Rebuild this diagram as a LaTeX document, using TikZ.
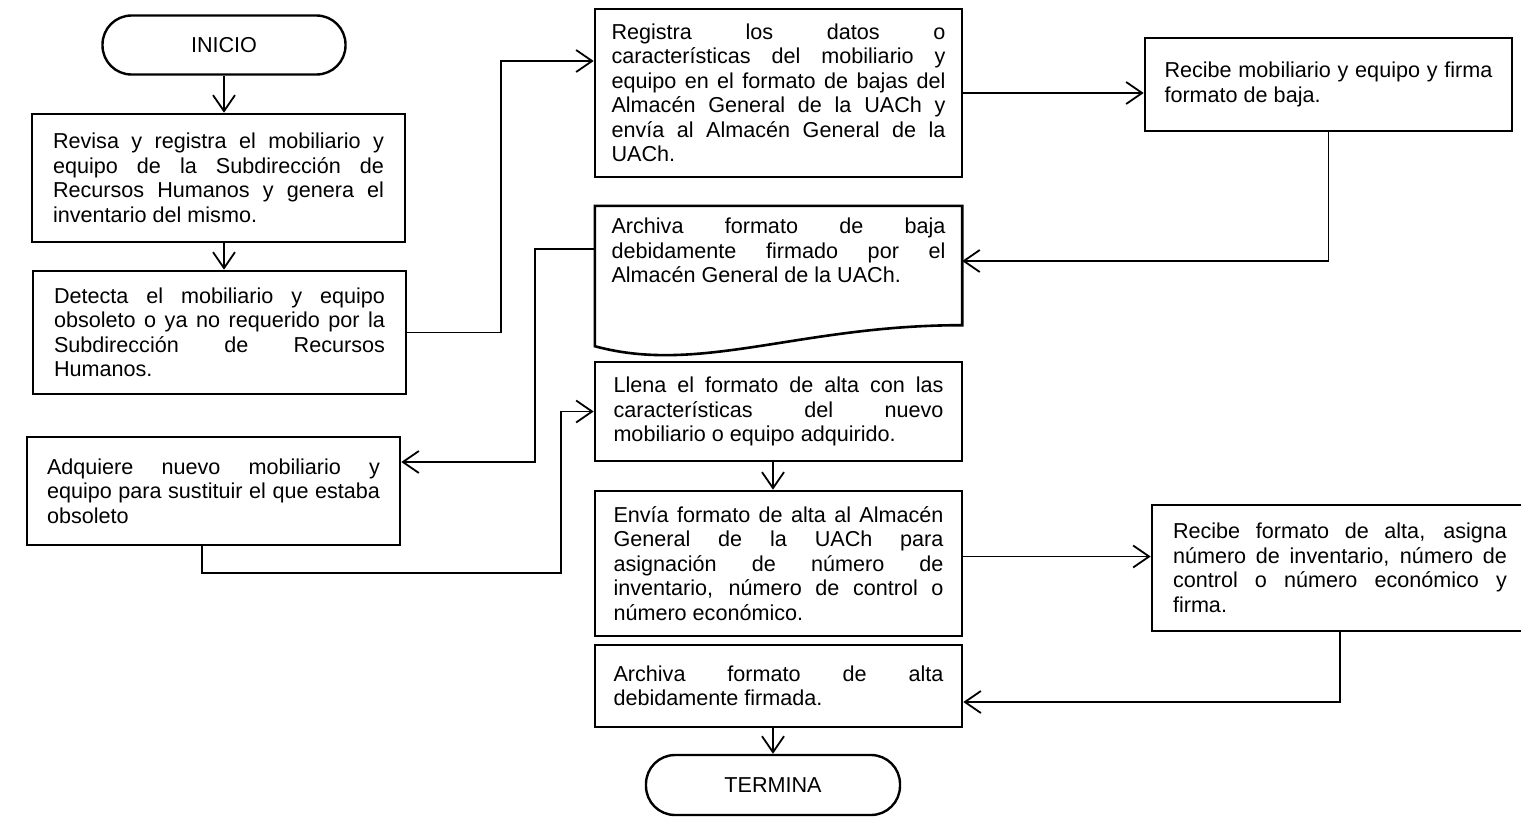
\documentclass[tikz,border=0pt]{standalone}
\usepackage{fontspec}
\setmainfont{Liberation Sans}
\usetikzlibrary{arrows.meta}
\hyphenpenalty=10000
\exhyphenpenalty=10000
\tolerance=10000
\hbadness=10000

\begin{document}
\begin{tikzpicture}[x=1pt,y=-1pt,
  every node/.style={font=\fontsize{21.6}{24.5}\selectfont},
  stepbox/.style={draw, line width=2.6pt, rectangle, align=justify, inner sep=0pt},
  term/.style={draw, line width=2.4pt, rectangle, rounded corners=29pt, inner sep=0pt, align=center},
  flow/.style={line width=1.8pt, -{Straight Barb[length=16pt,width=22pt,line width=1.8pt]}}]

\useasboundingbox (0,0) rectangle (1521,817);

% left column
\node[term, minimum width=243pt, minimum height=59pt] (inicio) at (224,45) {INICIO};
\node[stepbox, minimum width=373pt, minimum height=128pt, text width=331pt] (revisa) at (218.5,178)
  {Revisa y registra el mobiliario y\linebreak equipo de la Subdirección de\linebreak Recursos Humanos y genera el\linebreak inventario del mismo.};
\node[stepbox, minimum width=373pt, minimum height=123pt, text width=331pt] (detecta) at (219.5,332.5)
  {Detecta el mobiliario y equipo\linebreak obsoleto o ya no requerido por la\linebreak Subdirección de Recursos\linebreak Humanos.};
\node[stepbox, minimum width=373pt, minimum height=108pt, text width=333pt] (adquiere) at (213.5,491)
  {Adquiere nuevo mobiliario y\linebreak equipo para sustituir el que estaba\linebreak obsoleto};

% middle column
\node[stepbox, minimum width=367pt, minimum height=168pt, text width=334pt] (registra) at (778.5,93)
  {Registra los datos o\linebreak características del mobiliario y\linebreak equipo en el formato de bajas del\linebreak Almacén General de la UACh y\linebreak envía al Almacén General de la\linebreak UACh.};

% document shape with wavy lower edge
\node[minimum width=367pt, minimum height=140pt, inner sep=0pt] (archb) at (778.5,276) {};
\draw[line width=2.6pt] (archb.north west) -- (archb.north east) -- ([yshift=21pt]archb.south east)
  .. controls (800,325) and (700,375) .. (archb.south west) -- cycle;
\node[text width=334pt, align=justify, inner sep=0pt, anchor=north] (archbtxt) at (778.5,218)
  {Archiva formato de baja\linebreak debidamente firmado por el\linebreak Almacén General de la UACh.};

\node[stepbox, minimum width=367pt, minimum height=99pt, text width=330pt] (llena) at (778.5,411.5)
  {Llena el formato de alta con las\linebreak características del nuevo\linebreak mobiliario o equipo adquirido.};
\node[stepbox, minimum width=367pt, minimum height=145pt, text width=330pt] (envia) at (778.5,563.5)
  {Envía formato de alta al Almacén\linebreak General de la UACh para\linebreak asignación de número de\linebreak inventario, número de control o\linebreak número económico.};
\node[stepbox, minimum width=367pt, minimum height=82pt, text width=330pt] (archa) at (778.5,686)
  {Archiva formato de alta\linebreak debidamente firmada.};
\node[term, minimum width=254pt, minimum height=60pt] (termina) at (773,785) {TERMINA};

% right column
\node[stepbox, minimum width=367pt, minimum height=93pt, text width=328pt] (recibea) at (1328.5,84.5)
  {Recibe mobiliario y equipo y firma\linebreak formato de baja.};
\node[stepbox, minimum width=376pt, minimum height=126pt, text width=334pt] (recibeb) at (1340,568)
  {Recibe formato de alta, asigna\linebreak número de inventario, número de\linebreak control o número económico y\linebreak firma.};

% routing columns for the elbow connectors
\coordinate (j1) at (501,0);
\coordinate (j2) at (535,0);
\coordinate (j3) at (202,573);
\coordinate (j4) at (561,0);

% connectors
\draw[flow] (inicio.south) -- (inicio.south |- revisa.north);
\draw[flow] (revisa.south -| inicio.south) -- (detecta.north -| inicio.south);
\draw[flow] (detecta.east) -- (detecta.east -| j1) |- ([yshift=32pt]registra.west);
\draw[flow] (registra.east) -- (registra.east -| recibea.west);
\draw[flow] (recibea.south) |- ([yshift=15pt]archb.east);
\draw[flow] ([yshift=27pt]archb.west) -- ([yshift=27pt]archb.west -| j2) |- ([yshift=29pt]adquiere.east);
\draw[flow] (adquiere.south -| j3) -- (j3) -- (j3 -| j4) |- (llena.west);
\draw[flow] (llena.south -| termina.north) -- (envia.north -| termina.north);
\draw[flow] ([yshift=7pt]envia.east) -- ([yshift=7pt]envia.east -| recibeb.west);
\draw[flow] (recibeb.south) |- ([yshift=-16pt]archa.east);
\draw[flow] (archa.south -| termina.north) -- (termina.north);

\end{tikzpicture}
\end{document}
